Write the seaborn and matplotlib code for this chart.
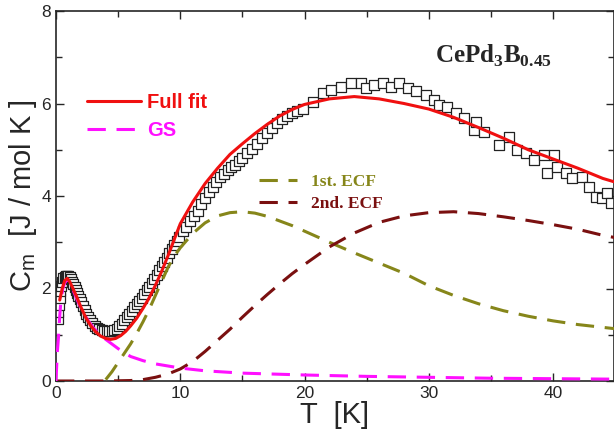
import numpy as np
import pandas as pd
import matplotlib
matplotlib.use("Agg")
import matplotlib.pyplot as plt
import seaborn as sns

# measured specific heat (open squares)
T_data = [0.15, 0.2, 0.25, 0.3, 0.35, 0.4, 0.5, 0.6, 0.7, 0.8, 0.9, 1.0, 1.1, 1.2, 1.3,
          1.4, 1.5, 1.6, 1.7, 1.8, 1.9, 2.0, 2.15, 2.3, 2.45, 2.6, 2.75, 2.9, 3.1, 3.3,
          3.5, 3.7, 3.9, 4.1, 4.3, 4.5, 4.7, 4.9, 5.1, 5.3, 5.5, 5.7, 5.9, 6.1, 6.3,
          6.5, 6.7, 6.9, 7.1, 7.3, 7.5, 7.7, 7.9, 8.1, 8.3, 8.5, 8.7, 8.9, 9.1, 9.3,
          9.5, 9.7, 9.9, 10.2, 10.5, 10.8, 11.1, 11.4, 11.7, 12.0, 12.3, 12.6, 12.9, 13.2, 13.5,
          13.8, 14.1, 14.4, 14.7, 15.0, 15.4, 15.8, 16.2, 16.6, 17.0, 17.4, 17.8, 18.2, 18.6, 19.0,
          19.4, 19.86, 20.67, 21.47, 22.14, 22.95, 23.75, 24.55, 24.95, 25.6, 26.3, 26.96, 27.6, 28.3, 28.97,
          29.8, 30.44, 30.84, 31.5, 32.2, 32.85, 33.65, 33.8, 34.46, 35.66, 36.47, 37.13, 37.8, 38.47, 39.28,
          39.54, 40.08, 40.35, 41.02, 41.55, 42.36, 42.89, 43.43, 43.96, 44.36, 44.63]
Cm_data = [1.35, 1.5, 1.65, 1.8, 1.95, 2.05, 2.15, 2.22, 2.25, 2.27, 2.27, 2.26, 2.24, 2.2, 2.15,
           2.09, 2.03, 1.97, 1.9, 1.84, 1.77, 1.71, 1.62, 1.53, 1.45, 1.38, 1.31, 1.26, 1.2, 1.15,
           1.12, 1.1, 1.09, 1.08, 1.08, 1.08, 1.1, 1.13, 1.18, 1.24, 1.31, 1.38, 1.45, 1.52, 1.59,
           1.66, 1.73, 1.8, 1.88, 1.96, 2.04, 2.12, 2.21, 2.3, 2.39, 2.48, 2.57, 2.66, 2.76, 2.85,
           2.94, 3.03, 3.12, 3.24, 3.34, 3.45, 3.56, 3.68, 3.82, 3.96, 4.09, 4.2, 4.3, 4.4, 4.48,
           4.56, 4.62, 4.68, 4.75, 4.82, 4.92, 5.02, 5.12, 5.25, 5.37, 5.48, 5.58, 5.66, 5.73, 5.8,
           5.84, 5.88, 6.04, 6.22, 6.29, 6.36, 6.44, 6.44, 6.33, 6.4, 6.44, 6.36, 6.44, 6.33, 6.26,
           6.18, 6.08, 5.97, 5.93, 5.79, 5.68, 5.43, 5.61, 5.39, 5.1, 5.28, 4.99, 4.92, 4.78, 4.89,
           4.49, 4.89, 4.63, 4.49, 4.38, 4.42, 4.2, 3.98, 3.95, 4.06, 3.84]

# full fit
T_fit = [0.3, 0.5, 0.7, 0.9, 1.1, 1.4, 1.7, 2.0, 2.4, 2.8, 3.2, 3.6, 4.0, 4.4, 4.8,
         5.2, 5.6, 6.0, 6.5, 7.0, 7.5, 8.0, 8.5, 9.0, 9.5, 10, 11, 12, 13, 14,
         15, 16, 17, 18, 19, 20, 22, 24, 26, 28, 30, 32, 34, 36, 38,
         40, 42, 44, 45]
Cm_fit = [1.75, 2.0, 2.17, 2.22, 2.15, 1.98, 1.8, 1.6, 1.37, 1.19, 1.06, 0.97, 0.92, 0.9, 0.92,
          0.98, 1.07, 1.19, 1.36, 1.57, 1.8, 2.07, 2.37, 2.7, 3.05, 3.4, 3.87, 4.27, 4.6, 4.9,
          5.13, 5.35, 5.55, 5.73, 5.87, 5.98, 6.1, 6.15, 6.1, 6.0, 5.88, 5.7, 5.48, 5.25, 5.0,
          4.8, 4.6, 4.38, 4.3]

# ground state doublet
T_gs = [0, 0.05, 0.1, 0.2, 0.3, 0.4, 0.55, 0.7, 0.9, 1.1, 1.4, 1.7, 2.0, 2.5, 3.0,
        3.5, 4.0, 5, 6, 7, 8, 10, 12, 15, 20, 25, 30, 35, 40, 45]
Cm_gs = [0.0, 0.3, 0.6, 0.95, 1.4, 1.75, 2.0, 2.12, 2.2, 2.12, 1.95, 1.76, 1.58, 1.34, 1.15,
         1.02, 0.9, 0.7, 0.53, 0.44, 0.37, 0.28, 0.22, 0.17, 0.13, 0.1, 0.08, 0.06, 0.05, 0.04]

# first excited crystal field level
T_ecf1 = [4.0, 4.5, 5, 5.5, 6, 6.5, 7, 7.5, 8, 8.5, 9, 9.5, 10, 11, 12,
          13, 14, 15, 16, 17, 18, 19, 20, 22, 24, 26, 28, 30, 32, 34,
          36, 38, 40, 42, 44, 45]
Cm_ecf1 = [0.03, 0.2, 0.4, 0.6, 0.8, 1.03, 1.28, 1.55, 1.85, 2.15, 2.45, 2.7, 2.88, 3.19, 3.42,
           3.57, 3.64, 3.66, 3.63, 3.56, 3.46, 3.36, 3.24, 3.0, 2.77, 2.55, 2.33, 2.06, 1.85, 1.67,
           1.52, 1.4, 1.3, 1.22, 1.16, 1.13]

# second excited crystal field level
T_ecf2 = [0, 2, 4, 6, 7, 8, 9, 10, 11, 12, 13, 14, 15, 16, 17,
          18, 19, 20, 22, 24, 26, 28, 30, 32, 34, 36, 38, 40, 42, 44, 45]
Cm_ecf2 = [0.0, 0.0, 0.0, 0.01, 0.03, 0.08, 0.15, 0.26, 0.42, 0.64, 0.88, 1.12, 1.38, 1.63, 1.87,
           2.1, 2.32, 2.52, 2.9, 3.2, 3.43, 3.57, 3.64, 3.66, 3.62, 3.55, 3.47, 3.38, 3.28, 3.15, 3.1]

sns.set_style("ticks", {"xtick.direction": "in", "ytick.direction": "in"})
plt.rcParams["font.family"] = ["Liberation Sans", "DejaVu Sans"]
plt.rcParams["mathtext.fontset"] = "custom"
plt.rcParams["mathtext.rm"] = "Liberation Sans"
plt.rcParams["mathtext.bf"] = "Liberation Serif:bold"

fig = plt.figure(figsize=(6.14, 4.34), dpi=100)
ax = fig.add_axes([56 / 614, 53 / 434, 558 / 614, 370 / 434])

sns.scatterplot(x=T_data, y=Cm_data, marker="s", s=44, facecolor="white",
                edgecolor="#222222", linewidth=0.9, ax=ax, zorder=2)

dash = (0, (6, 3.5))
sns.lineplot(x=T_ecf1, y=Cm_ecf1, color="#86861a", lw=2.2, ls=dash, ax=ax, zorder=3)
sns.lineplot(x=T_ecf2, y=Cm_ecf2, color="#7a1010", lw=2.2, ls=dash, ax=ax, zorder=3)
sns.lineplot(x=T_gs, y=Cm_gs, color="#ff10ff", lw=2.2, ls=dash, ax=ax, zorder=4)
sns.lineplot(x=T_fit, y=Cm_fit, color="#f01010", lw=2.2, ax=ax, zorder=5)
l_ecf1, l_ecf2, l_gs, l_fit = ax.lines[-4:]

leg1 = ax.legend([l_fit, l_gs], ["Full fit", "GS"], loc="upper left",
                 bbox_to_anchor=(0.055, 0.778), frameon=False, borderpad=0, borderaxespad=0,
                 handlelength=2.7, handletextpad=0.3, labelspacing=0.42, labelcolor="linecolor",
                 prop={"family": "Liberation Sans", "weight": "bold", "size": 14.5})
ax.add_artist(leg1)
ax.legend([l_ecf1, l_ecf2], ["1st. ECF", "2nd. ECF"], loc="upper left",
          bbox_to_anchor=(0.363, 0.561), frameon=False, borderpad=0, borderaxespad=0,
          handlelength=2.2, handletextpad=0.8, labelspacing=0.38, labelcolor="linecolor",
          prop={"family": "Liberation Serif", "weight": "bold", "size": 12.5})

ax.text(0.679, 0.86, r"$\mathbf{CePd}_{\mathbf{3}}\mathbf{B}_{\mathbf{0.45}}$",
        transform=ax.transAxes, fontsize=18, ha="left", va="baseline")

ax.set_xlim(0, 44.9)
ax.set_ylim(0, 8)
ax.set_xticks([0, 10, 20, 30, 40])
ax.set_xticks([5, 15, 25, 35], minor=True)
ax.set_yticks([0, 2, 4, 6, 8])
ax.set_yticks([1, 3, 5, 7], minor=True)
ax.tick_params(which="both", direction="in", top=True, right=True, width=1.0, labelsize=12.5)
ax.tick_params(which="major", length=6)
ax.tick_params(which="minor", length=4)
for sp in ax.spines.values():
    sp.set_linewidth(1.2)
    sp.set_visible(True)

ax.set_xlabel("T  [K]", fontsize=21, labelpad=0)
ax.set_ylabel(r"C$_{\rm m}$  [J / mol K ]", fontsize=21, labelpad=2)

fig.savefig("out.png", dpi=100)
